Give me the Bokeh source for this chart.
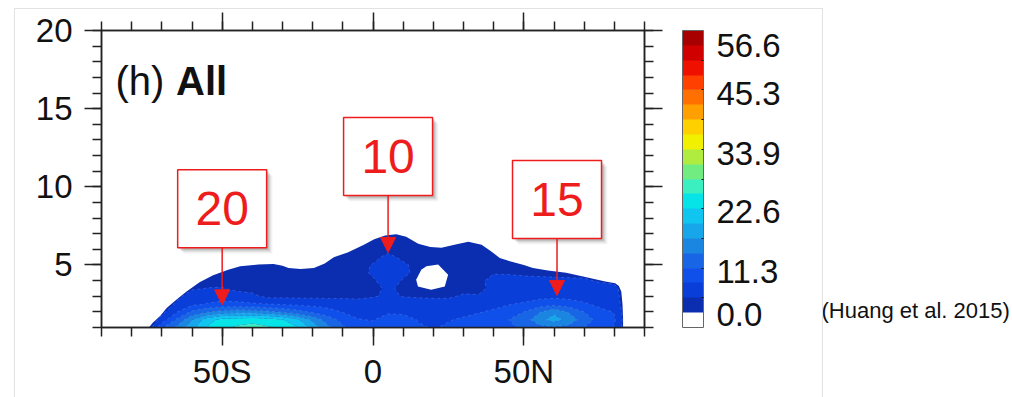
import numpy as np
from bokeh.plotting import figure
from bokeh.models import (Range1d, LinearAxis, FixedTicker, ColorBar, LinearColorMapper,
                          Label, Arrow, NormalHead, ColumnDataSource, InlineStyleSheet)
from bokeh.embed import file_html
from bokeh.resources import INLINE
from bokeh.core.properties import value

# ---------------- data ----------------
lat_grid = list(range(-75, 90, 5))
alt_grid = [1.0, 1.5, 2.0, 2.5, 3.0, 3.5, 4.0, 4.5, 5.0, 5.5, 6.0]
# frequency (%) per latitude column, altitudes as in alt_grid
freq_by_lat = [
    [0, 0, 0, 0, 0, 0, 0, 0, 0, 0, 0],                 # -75
    [8, 4.0, 2, 0, 0, 0, 0, 0, 0, 0, 0],               # -70
    [12, 9, 5.5, 3.5, 2, 0, 0, 0, 0, 0, 0],            # -65
    [16, 14, 9, 5.0, 4.2, 2.5, 2, 0, 0, 0, 0],         # -60
    [20, 18.5, 11, 5.8, 4.6, 2.9, 2, 2, 0, 0, 0],      # -55
    [22, 20.8, 12.5, 6.2, 4.8, 3.0, 2, 2, 0, 0, 0],    # -50
    [23, 21.5, 13, 6.3, 4.3, 2.0, 2, 2, 2, 0, 0],      # -45
    [23.5, 21.8, 12.8, 6.0, 3.4, 2, 2, 2, 2, 0, 0],    # -40
    [23, 21.2, 12, 5.7, 2.2, 2, 2, 2, 2, 0, 0],        # -35
    [22, 20, 11, 5.3, 2.2, 2, 2, 2, 0, 0, 0],          # -30
    [20, 17.5, 9.5, 5.0, 2.2, 2, 2, 2, 0, 0, 0],       # -25
    [16, 13.5, 8, 4.8, 2.2, 2, 2, 2, 0, 0, 0],         # -20
    [12, 10, 6.8, 4.5, 2.2, 2, 2, 2, 2, 0, 0],         # -15
    [9, 7.5, 5.5, 4.3, 2.2, 2, 2, 2, 2, 2, 0],         # -10
    [6.5, 5.8, 4.8, 4.0, 2.2, 2, 2, 2, 2, 2, 2],       # -5
    [6.5, 5.5, 4.6, 4.3, 2.6, 2.4, 2.5, 3.2, 3.0, 2, 2],   # 0
    [8, 7.5, 5, 4.5, 3.3, 3.1, 4.2, 4.5, 4.5, 3.6, 2],     # 5
    [7.5, 7, 5, 4.5, 2.7, 2.5, 2.6, 3.5, 3.3, 2.2, 2],     # 10
    [6, 5.5, 4.6, 4.2, 2.5, 2, 2, 2, 2, 2, 2],         # 15
    [5.5, 5, 4.5, 4.0, 2.4, 2, 2, 2, 2, 2, 2],         # 20
    [6, 5.5, 4.6, 4.0, 2.4, 2, 2, 2, 2, 2, 2],         # 25
    [6.5, 6, 5, 4.5, 3.2, 2, 2, 2, 2, 2, 2],           # 30
    [7, 6.5, 5.5, 4.8, 3.2, 1.5, 2, 2, 2, 2, 2],       # 35
    [7, 7, 6, 5.0, 4.4, 4.2, 4.0, 2.6, 2, 2, 0],       # 40
    [8, 8.5, 7, 5.5, 4.5, 4.3, 4.0, 2.5, 2, 0, 0],     # 45
    [9, 10, 8.5, 6, 4.5, 4.2, 3.8, 2.2, 2, 0, 0],      # 50
    [10.5, 13, 11, 7, 4.8, 4.3, 3.7, 2, 0, 0, 0],      # 55
    [11, 15.5, 13.5, 7.5, 5.0, 4.4, 3.5, 2, 0, 0, 0],  # 60
    [10.5, 13, 11, 7, 4.8, 4.3, 3.3, 2, 0, 0, 0],      # 65
    [8.5, 10, 8.5, 6, 4.6, 4.2, 3.2, 2, 0, 0, 0],      # 70
    [7, 7.5, 6.5, 5, 4.4, 4.0, 2.5, 0, 0, 0, 0],       # 75
    [5.5, 6, 5.5, 4.6, 4.2, 3.8, 2, 0, 0, 0, 0],       # 80
    [0, 0, 0, 0, 0, 0, 0, 0, 0, 0, 0],                 # 85
]

# outer edge of the non-zero region (lat, altitude km)
outline_lat = [-74.3, -73, -70.5, -68.4, -65, -61.8, -57.5, -53, -48, -44, -38, -33, -30,
               -28, -24, -19.6, -16, -13, -8.4, -3, 0.4, 4, 7.7, 11, 15, 19, 22.7, 27,
               31.6, 36, 39, 42, 46, 50, 53, 58, 64, 70, 77, 80.3, 81.5, 82.3, 82.7,
               82.9, 82.9]
outline_alt = [1.0, 1.3, 1.75, 2.24, 2.8, 3.3, 3.9, 4.35, 4.7, 4.92, 5.03, 5.07, 4.95,
               4.8, 4.75, 4.8, 5.1, 5.5, 5.8, 6.3, 6.65, 6.88, 6.97, 6.8, 6.35, 6.15, 6.1,
               6.3, 6.48, 6.3, 5.9, 5.45, 5.2, 5.0, 4.8, 4.65, 4.5, 4.25, 3.95, 3.83,
               3.65, 3.3, 2.5, 1.6, 1.0]
# empty hole inside the region
hole_lat = [17.7, 21.6, 24.9, 23.8, 19.3, 14.9, 14.3, 16.0]
hole_alt = [4.92, 5.03, 4.38, 3.63, 3.42, 3.63, 4.06, 4.70]

y_ticks = [5, 10, 15, 20]
x_ticks = [-50, 0, 50]
x_tick_labels = ["50S", "0", "50N"]

cb_colors = ["#0b2db0", "#0a3ed8", "#1050ea", "#1866e6", "#1a86e2", "#18a6ea", "#10c6f0",
             "#06e4e8", "#3cefc0", "#70ec80", "#b0ec40", "#f0f000", "#ffd000", "#ffa000",
             "#ff7000", "#ff4000", "#f01000", "#d00000", "#a80000"]
cb_labels = ["0.0", "11.3", "22.6", "33.9", "45.3", "56.6"]
cb_label_pos = [0.85, 3.8, 7.8, 11.7, 15.75, 19.0]
level_step = 2.83

callout_lat = [-50, 5, 61]
callout_alt = [2.45, 5.8, 3.05]
callout_text = ["20", "10", "15"]

note_text = "(Huang et al. 2015)"
note_alt = 2.07

# ---------------- figure ----------------
FONT = "Liberation Sans"
RED = "#ee1c1c"
PX_DEG = 543 / 180.0
PX_KM = 297 / 19.0

p = figure(frame_width=543, frame_height=297, x_range=Range1d(-90, 90), y_range=Range1d(1, 20),
           output_backend="svg", toolbar_location=None,
           min_border_left=101, min_border_right=368, min_border_top=30, min_border_bottom=70)
p.xgrid.visible = False
p.ygrid.visible = False
p.outline_line_color = "#222222"
p.outline_line_width = 1.5
p.background_fill_color = "white"
p.border_fill_color = "white"
p.stylesheets = [InlineStyleSheet(css=(
    ":host::after { content: ''; position: absolute; left: 14px; top: 8px; width: 809px; "
    "height: 389px; box-sizing: border-box; border-left: 1px solid #e2e2e2; "
    "border-top: 1px solid #e2e2e2; border-right: 1px solid #e2e2e2; pointer-events: none; }"))]

xt = FixedTicker(ticks=x_ticks, minor_ticks=list(range(-90, 91, 10)))
yt = FixedTicker(ticks=y_ticks, minor_ticks=list(range(1, 21)))

def style_axis(ax, labels=True):
    ax.axis_line_color = "#222222"
    ax.axis_line_width = 1.5
    ax.major_tick_line_color = "#222222"
    ax.minor_tick_line_color = "#222222"
    ax.major_tick_line_width = 1.5
    ax.minor_tick_line_width = 1.5
    ax.major_tick_in = 0
    ax.minor_tick_in = 0
    ax.major_tick_out = 18
    ax.minor_tick_out = 9
    ax.major_label_text_font = FONT
    if labels:
        ax.major_label_text_font_size = "33px"
        ax.major_label_text_color = "#111111"
    else:
        ax.major_label_text_font_size = "0px"
        ax.major_label_text_color = None
        ax.major_label_standoff = 0

p.xaxis.ticker = xt
p.xaxis.major_label_overrides = dict(zip(x_ticks, x_tick_labels))
p.yaxis.ticker = yt
for ax in p.xaxis:
    style_axis(ax)
    ax.major_label_standoff = 7
for ax in p.yaxis:
    style_axis(ax)
    ax.major_label_standoff = 12
    ax.major_tick_out = 17

top_ax = LinearAxis(ticker=xt)
style_axis(top_ax, labels=False)
p.add_layout(top_ax, "above")
right_ax = LinearAxis(ticker=yt)
style_axis(right_ax, labels=False)
p.add_layout(right_ax, "right")

# source note as the label of an extra, line-less right axis
note_ax = LinearAxis(ticker=FixedTicker(ticks=[note_alt], minor_ticks=[]),
                     major_label_overrides={note_alt: note_text},
                     axis_line_color=None, major_tick_line_color=None,
                     minor_tick_line_color=None, major_tick_out=0, minor_tick_out=0,
                     major_tick_in=0, minor_tick_in=0,
                     major_label_standoff=159, major_label_text_font=FONT,
                     major_label_text_font_size="22px", major_label_text_color="#111111")
p.add_layout(note_ax, "right")

# non-zero region (lowest colour class)
p.patch(outline_lat, outline_alt, fill_color=cb_colors[0], line_color=None)

# higher classes as filled contours
z = np.array(freq_by_lat, dtype=float).T
levels = [round(level_step * k, 2) for k in range(1, 20)]
p.contour(x=lat_grid, y=alt_grid, z=z, levels=levels, fill_color=cb_colors[1:19],
          line_color="#9fb8ff", line_alpha=0.25, line_dash="3 3", line_width=1)

# hole
p.patch(hole_lat, hole_alt, fill_color="white", line_color=None)

# callouts
tip = np.array(callout_alt)
lat = np.array(callout_lat, dtype=float)
box_y = tip + 96 / PX_KM
start_y = tip + 57.5 / PX_KM
for k, a in zip([2, 3, 4, 5, 6], [0.10, 0.08, 0.06, 0.04, 0.03]):
    p.rect(x=lat + k / PX_DEG, y=box_y - k / PX_KM, width=89, height=78,
           width_units="screen", height_units="screen",
           fill_color="black", fill_alpha=a, line_color=None)
p.rect(x=lat, y=box_y, width=89, height=78, width_units="screen", height_units="screen",
       fill_color="white", line_color=RED, line_width=1.5)
p.text(x=lat, y=box_y, text=callout_text, text_align="center", text_baseline="middle",
       text_font=value(FONT), text_font_size="48px", text_color=RED)
asrc = ColumnDataSource(dict(x0=lat, y0=start_y, x1=lat, y1=tip))
p.add_layout(Arrow(end=NormalHead(size=15, fill_color=RED, line_color=RED, line_width=1),
                   x_start="x0", y_start="y0", x_end="x1", y_end="y1", source=asrc,
                   line_color=RED, line_width=1.5))

# panel title
p.add_layout(Label(x=-85.4, y=16.74, text="(h)", text_font=FONT, text_font_size="40px",
                   text_color="#111111", text_baseline="alphabetic"))
p.add_layout(Label(x=-65.3, y=16.74, text="All", text_font=FONT, text_font_size="40px",
                   text_font_style="bold", text_color="#111111", text_baseline="alphabetic"))

# colour bar
mapper = LinearColorMapper(palette=["#ffffff"] + cb_colors, low=0, high=20)
cb = ColorBar(color_mapper=mapper, orientation="vertical", width=21, height=297,
              location=(581, 0), padding=0, margin=0,
              ticker=FixedTicker(ticks=cb_label_pos, minor_ticks=list(range(2, 19, 2))),
              major_label_overrides=dict(zip(cb_label_pos, cb_labels)),
              major_label_text_font=FONT, major_label_text_font_size="33px",
              major_label_text_color="#111111", label_standoff=13,
              major_tick_line_color=None, minor_tick_line_color="#111111",
              minor_tick_in=2, minor_tick_out=0,
              bar_line_color="#666666", bar_line_width=1,
              background_fill_color=None, border_line_color=None)
p.add_layout(cb)

open("out.html", "w").write(file_html(p, INLINE))
